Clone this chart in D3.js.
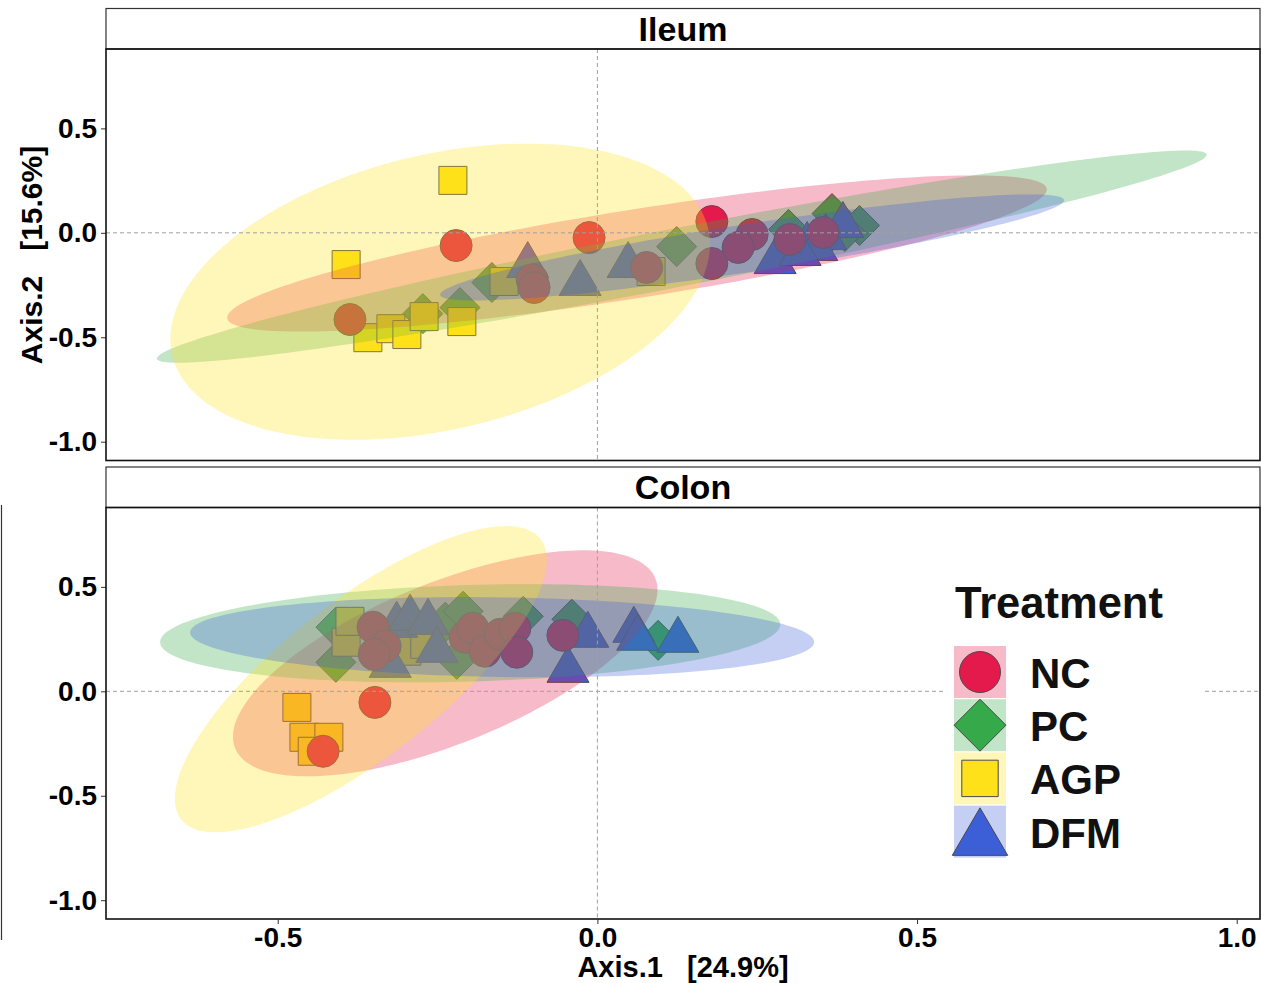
<!DOCTYPE html>
<html>
<head>
<meta charset="utf-8">
<script src="https://cdn.jsdelivr.net/npm/d3@7"></script>
<style>
  body { margin: 0; background: #fff; }
  svg { display: block; }
  text { font-family: "Liberation Sans", Arial, sans-serif; font-weight: bold; }
</style>
</head>
<body>
<div id="chart"></div>
<script>
const W = 1261, H = 983;

const groups = ["NC", "PC", "AGP", "DFM"];
const fills = ["#E31A4B", "#36A94A", "#FFE11A", "#3C5FD8"];
const xTicks = [-0.5, 0, 0.5, 1.0];
const yTicks = [0.5, 0, -0.5, -1.0];

// PCoA scores [Axis.1, Axis.2], Ileum
const ileumNC = [[-0.221,-0.061],[-0.013,-0.023],[-0.102,-0.224],[-0.099,-0.262],[0.077,-0.166],[-0.387,-0.415],
                 [0.179,0.054],[0.179,-0.147],[0.242,-0.008],[0.220,-0.070],[0.301,-0.032],[0.353,0.001]];
const ileumPC = [[0.124,-0.066],[-0.215,-0.358],[-0.273,-0.387],[-0.165,-0.238],[0.299,0.016],[0.367,0.092],
                 [0.410,0.035],[0.357,-0.023],[0.387,0.006]];
const ileumAGP = [[-0.226,0.251],[-0.393,-0.152],[-0.359,-0.502],[-0.323,-0.459],[-0.298,-0.487],[-0.271,-0.401],
                  [-0.212,-0.425],[-0.146,-0.233],[0.084,-0.185]];
const ileumDFM = [[-0.109,-0.128],[-0.027,-0.214],[0.048,-0.128],[0.278,-0.109],[0.328,-0.032],[0.357,0.006],
                  [0.384,0.064],[0.343,-0.046],[0.317,-0.070]];

// PCoA scores [Axis.1, Axis.2], Colon
const colonNC = [[-0.348,-0.053],[-0.429,-0.287],[-0.351,0.307],[-0.332,0.216],[-0.349,0.177],[-0.207,0.259],
                 [-0.195,0.302],[-0.176,0.192],[-0.152,0.273],[-0.129,0.302],[-0.126,0.187],[-0.054,0.268]];
const colonPC = [[-0.409,0.307],[-0.409,0.139],[-0.238,0.331],[-0.210,0.383],[-0.220,0.153],[-0.116,0.359],
                 [-0.040,0.345],[0.095,0.244]];
const colonAGP = [[-0.470,-0.077],[-0.459,-0.220],[-0.420,-0.220],[-0.446,-0.287],[-0.393,0.235],[-0.387,0.335],
                  [-0.298,0.192],[-0.270,0.225]];
const colonDFM = [[-0.314,0.345],[-0.293,0.379],[-0.265,0.359],[-0.251,0.225],[-0.324,0.153],[-0.046,0.129],
                  [-0.015,0.297],[0.057,0.321],[0.063,0.283],[0.126,0.273]];

// confidence ellipses per group (NC, PC, AGP, DFM): [cx, cy, half-width x, half-height y, correlation]
const ileumEllipses = [[0.062,-0.099,0.641,0.374,0.82],[0.132,-0.114,0.821,0.508,0.96],
                       [-0.246,-0.282,0.422,0.709,0.32],[0.242,-0.070,0.488,0.254,0.89]];
const colonEllipses = [[-0.238,0.134,0.332,0.541,0.65],[-0.199,0.278,0.485,0.235,0.18],
                       [-0.370,0.058,0.291,0.733,0.78],[-0.149,0.259,0.488,0.192,-0.12]];

const panels = [
  { title: "Ileum", top: 8.5, scores: [ileumNC, ileumPC, ileumAGP, ileumDFM], ellipses: ileumEllipses },
  { title: "Colon", top: 467, scores: [colonNC, colonPC, colonAGP, colonDFM], ellipses: colonEllipses }
];

const left = 106, right = 1260, stripH = 40.5, plotH = 411.5;

const x = d3.scaleLinear().domain([-0.7686, 1.0364]).range([left, right]);

const svg = d3.select("#chart").append("svg").attr("width", W).attr("height", H);

// point shapes, sized in px
function shapePath(g, s) {
  if (g === 0) { const r = 16 * s; return d3.symbol(d3.symbolCircle, Math.PI * r * r)(); }
  if (g === 1) { const d = 20 * s; return `M0,${-d}L${d},0L0,${d}L${-d},0Z`; }
  if (g === 2) { const h = 14 * s; return `M${-h},${-h}H${h}V${h}H${-h}Z`; }
  const w = 21 * s, h = 18 * s;
  return `M0,${-h}L${w},${h}L${-w},${h}Z`;
}

function ellipsePoints(e) {
  const [cx, cy, sx, sy, r] = e;
  const q = Math.sqrt(1 - r * r);
  return d3.range(0, 2 * Math.PI, Math.PI / 90).map(t =>
    [cx + sx * Math.cos(t), cy + sy * (r * Math.cos(t) + q * Math.sin(t))]);
}

const drawOrder = [1, 2, 3, 0];

panels.forEach((p, pi) => {
  const y0 = p.top + stripH;
  const y = d3.scaleLinear().domain([-1.09, 0.88]).range([y0 + plotH, y0]);
  const g = svg.append("g");

  const clipId = "clip" + pi;
  svg.append("clipPath").attr("id", clipId)
    .append("rect").attr("x", left).attr("y", y0).attr("width", right - left).attr("height", plotH);

  const plot = g.append("g").attr("clip-path", `url(#${clipId})`);

  // points
  drawOrder.forEach(gi => {
    plot.append("g").selectAll("path")
      .data(p.scores[gi])
      .join("path")
      .attr("transform", d => `translate(${x(d[0])},${y(d[1])})`)
      .attr("d", shapePath(gi, 1))
      .attr("fill", fills[gi])
      .attr("stroke", "#4a4a4a")
      .attr("stroke-width", 1);
  });

  // ellipses over points
  const line = d3.line().x(d => x(d[0])).y(d => y(d[1])).curve(d3.curveLinearClosed);
  p.ellipses.forEach((e, gi) => {
    plot.append("path")
      .attr("d", line(ellipsePoints(e)))
      .attr("fill", fills[gi])
      .attr("fill-opacity", 0.3)
      .attr("stroke", "none");
  });

  // reference lines at zero
  plot.append("line").attr("x1", left).attr("x2", right).attr("y1", y(0)).attr("y2", y(0))
    .attr("stroke", "#a0a0a0").attr("stroke-width", 1).attr("stroke-dasharray", "4,3");
  plot.append("line").attr("x1", x(0)).attr("x2", x(0)).attr("y1", y0).attr("y2", y0 + plotH)
    .attr("stroke", "#a0a0a0").attr("stroke-width", 1).attr("stroke-dasharray", "4,3");

  // y axis
  const ya = g.append("g").attr("transform", `translate(${left},0)`)
    .call(d3.axisLeft(y).tickValues(yTicks).tickFormat(d => d.toFixed(1)).tickSize(5).tickPadding(4));
  ya.select(".domain").remove();
  ya.selectAll(".tick line").attr("stroke", "#333");
  ya.selectAll("text").attr("font-size", 28).attr("fill", "#000")
    .style("font-family", '"Liberation Sans", Arial, sans-serif').style("font-weight", "bold");

  // strip and frame
  g.append("rect").attr("x", left).attr("y", p.top).attr("width", right - left).attr("height", stripH)
    .attr("fill", "#fff").attr("stroke", "#333").attr("stroke-width", 1.2);
  g.append("text").attr("x", (left + right) / 2).attr("y", p.top + 32)
    .attr("text-anchor", "middle").attr("font-size", 34).text(p.title);
  g.append("rect").attr("x", left).attr("y", y0).attr("width", right - left).attr("height", plotH)
    .attr("fill", "none").attr("stroke", "#111").attr("stroke-width", 1.6);

  if (pi === 1) {
    const xa = g.append("g").attr("transform", `translate(0,${y0 + plotH})`)
      .call(d3.axisBottom(x).tickValues(xTicks).tickFormat(d => d.toFixed(1)).tickSize(5).tickPadding(3));
    xa.select(".domain").remove();
    xa.selectAll(".tick line").attr("stroke", "#333");
    xa.selectAll("text").attr("font-size", 28).attr("fill", "#000")
      .style("font-family", '"Liberation Sans", Arial, sans-serif').style("font-weight", "bold");

    // legend
    const lg = svg.append("g");
    lg.append("rect").attr("x", 943).attr("y", 575).attr("width", 262).attr("height", 295).attr("fill", "#fff");
    lg.append("text").attr("x", 955).attr("y", 618).attr("font-size", 43.5).attr("fill", "#111").text("Treatment");
    groups.forEach((name, gi) => {
      const cy = 672 + gi * 53.2;
      lg.append("rect").attr("x", 954).attr("y", cy - 26).attr("width", 52).attr("height", 52)
        .attr("fill", fills[gi]).attr("fill-opacity", 0.3);
      lg.append("path").attr("transform", `translate(980,${cy})`)
        .attr("d", shapePath(gi, gi === 0 ? 1.28 : gi === 1 ? 1.3 : gi === 2 ? 1.3 : 1.32))
        .attr("fill", fills[gi]).attr("stroke", "#4a4a4a").attr("stroke-width", 1);
      lg.append("text").attr("x", 1030).attr("y", cy + 16).attr("font-size", 42).attr("fill", "#111").text(name);
    });
  }
});

// axis titles
svg.append("text").attr("x", (left + right) / 2).attr("y", 977).attr("text-anchor", "middle")
  .attr("font-size", 29).attr("xml:space", "preserve").text("Axis.1   [24.9%]");
svg.append("text").attr("transform", "translate(42,255) rotate(-90)").attr("text-anchor", "middle")
  .attr("font-size", 30).attr("xml:space", "preserve").text("Axis.2   [15.6%]");

// thin rule at the left edge of the lower panel
svg.append("line").attr("x1", 1.5).attr("x2", 1.5).attr("y1", 505).attr("y2", 940)
  .attr("stroke", "#333").attr("stroke-width", 1.2);
</script>
</body>
</html>
